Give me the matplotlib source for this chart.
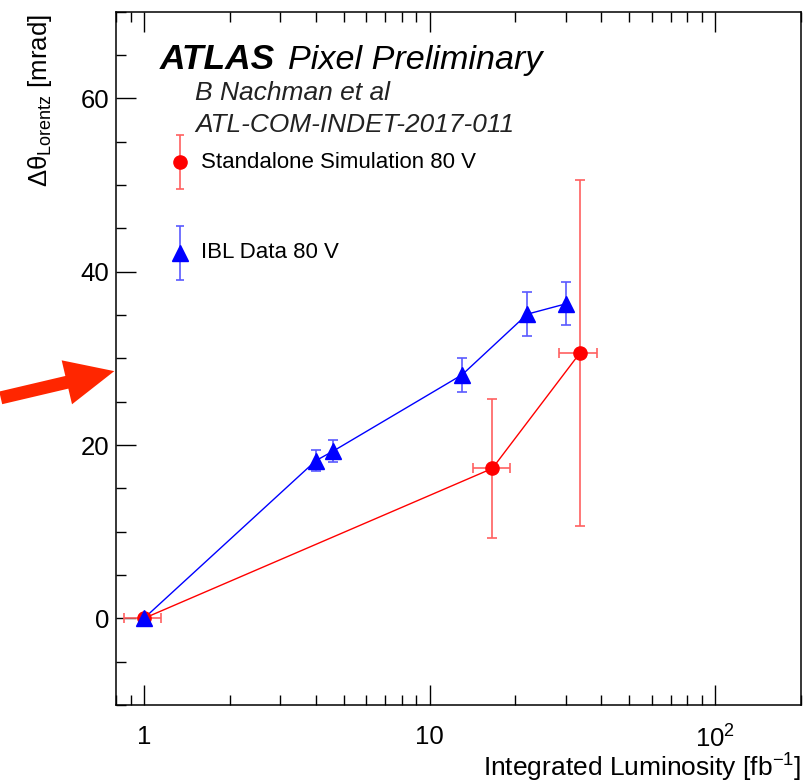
import matplotlib
matplotlib.use("Agg")
import matplotlib.pyplot as plt
from matplotlib.ticker import LogLocator, FixedLocator, FixedFormatter, MultipleLocator, NullFormatter

plt.rcParams['font.family'] = ['Liberation Sans', 'DejaVu Sans']
plt.rcParams['mathtext.fontset'] = 'custom'
plt.rcParams['mathtext.rm'] = 'Liberation Sans'
plt.rcParams['mathtext.it'] = 'Liberation Sans:italic'
plt.rcParams['mathtext.bf'] = 'Liberation Sans:bold'

# Standalone simulation 80 V
sim_lumi = [1.0, 16.6, 33.6]
sim_lumi_err = [[0.15, 2.4, 5.3], [0.15, 2.6, 5.0]]
sim_theta = [0.0, 17.3, 30.6]
sim_theta_err = [0.0, 8.0, 20.0]

# IBL data 80 V
ibl_lumi = [1.0, 4.0, 4.6, 13.0, 22.0, 30.1]
ibl_theta = [0.0, 18.2, 19.3, 28.1, 35.1, 36.3]
ibl_theta_err = [0.3, 1.2, 1.3, 1.95, 2.5, 2.5]

x_ticks = [1, 10, 100]
x_ticklabels = ['1', '10', '10$^{2}$']
y_ticks = [0, 20, 40, 60]

RED = '#ff0000'
BLUE = '#0000ff'

fig = plt.figure(figsize=(8.09, 7.84), dpi=100)
ax = fig.add_axes([116.3 / 809, 1 - 705 / 784, 684.7 / 809, 693.3 / 784])

# connecting lines + points
ax.plot(sim_lumi, sim_theta, color=RED, lw=1.0, zorder=2)
ax.plot(ibl_lumi, ibl_theta, color=BLUE, lw=1.0, zorder=2)
ax.errorbar(sim_lumi, sim_theta, xerr=sim_lumi_err, yerr=sim_theta_err, fmt='none',
            ecolor='#ff6060', elinewidth=1.2, capsize=3.5, capthick=1.2, zorder=3)
ax.errorbar(ibl_lumi, ibl_theta, yerr=ibl_theta_err, fmt='none',
            ecolor='#5a5aff', elinewidth=1.2, capsize=3.5, capthick=1.2, zorder=3)
ax.plot(sim_lumi, sim_theta, 'o', color=RED, ms=9.5, mec=RED, ls='none', zorder=4)
ax.plot(ibl_lumi, ibl_theta, '^', color=BLUE, ms=11, mec=BLUE, ls='none', zorder=5)

ax.set_xscale('log')
ax.set_xlim(0.8, 200)
ax.set_ylim(-10, 70)

ax.xaxis.set_major_locator(FixedLocator(x_ticks))
ax.xaxis.set_major_formatter(FixedFormatter(x_ticklabels))
ax.xaxis.set_minor_locator(LogLocator(base=10, subs=range(2, 10)))
ax.xaxis.set_minor_formatter(NullFormatter())
ax.yaxis.set_major_locator(FixedLocator(y_ticks))
ax.yaxis.set_minor_locator(MultipleLocator(5))

ax.tick_params(axis='both', which='both', direction='in', width=1.0, colors='black',
               labelsize=18.5)
ax.tick_params(axis='x', which='major', length=14.5, pad=14.5, top=True)
ax.tick_params(axis='x', which='minor', length=7, top=True)
ax.tick_params(axis='y', which='major', length=14.5, pad=5, right=False)
ax.tick_params(axis='y', which='minor', length=7, right=False)
for s in ax.spines.values():
    s.set_linewidth(1.1)

# header text
ax.text(0.0638, 0.917, 'ATLAS', transform=ax.transAxes, fontsize=25.5,
        fontweight='bold', fontstyle='italic', ha='left', va='baseline')
ax.text(0.2508, 0.917, 'Pixel Preliminary', transform=ax.transAxes, fontsize=24.6,
        fontstyle='italic', ha='left', va='baseline')
ax.text(0.115, 0.872, 'B Nachman et al', transform=ax.transAxes, fontsize=19,
        fontstyle='italic', ha='left', va='baseline', color='#222222')
ax.text(0.115, 0.827, 'ATL-COM-INDET-2017-011', transform=ax.transAxes, fontsize=18.9,
        fontstyle='italic', ha='left', va='baseline', color='#222222')

# legend drawn by hand (ROOT style)
ax.errorbar([0.093], [0.783], yerr=[0.039], transform=ax.transAxes, fmt='o',
            color=RED, ecolor='#ff6060', ms=9.5, elinewidth=1.2, capsize=3,
            capthick=1.2, clip_on=False)
ax.errorbar([0.093], [0.652], yerr=[0.039], transform=ax.transAxes, fmt='^',
            color=BLUE, ecolor='#5a5aff', ms=11, elinewidth=1.2, capsize=3,
            capthick=1.2, clip_on=False)
ax.text(0.124, 0.783, 'Standalone Simulation 80 V', transform=ax.transAxes,
        fontsize=16, ha='left', va='center')
ax.text(0.124, 0.652, 'IBL Data 80 V', transform=ax.transAxes,
        fontsize=16, ha='left', va='center')

# axis titles
fig.text(40 / 809, 1 - 14 / 784, 'Δθ$_{\\mathrm{Lorentz}}$ [mrad]',
         rotation=90, ha='center', va='top', fontsize=18.5)
fig.text(801 / 809, 1 - 768 / 784, 'Integrated Luminosity [fb$^{-1}$]',
         ha='right', va='center', fontsize=19)

# red annotation arrow on the left
fig.patches.append(matplotlib.patches.FancyArrowPatch(
    (-2, 784 - 398.5), (117, 784 - 370.5), transform=None,
    arrowstyle='simple,head_length=2.7,head_width=2.5,tail_width=0.72',
    mutation_scale=13, color='#ff2600', lw=0))

fig.savefig('out.png', dpi=100)
